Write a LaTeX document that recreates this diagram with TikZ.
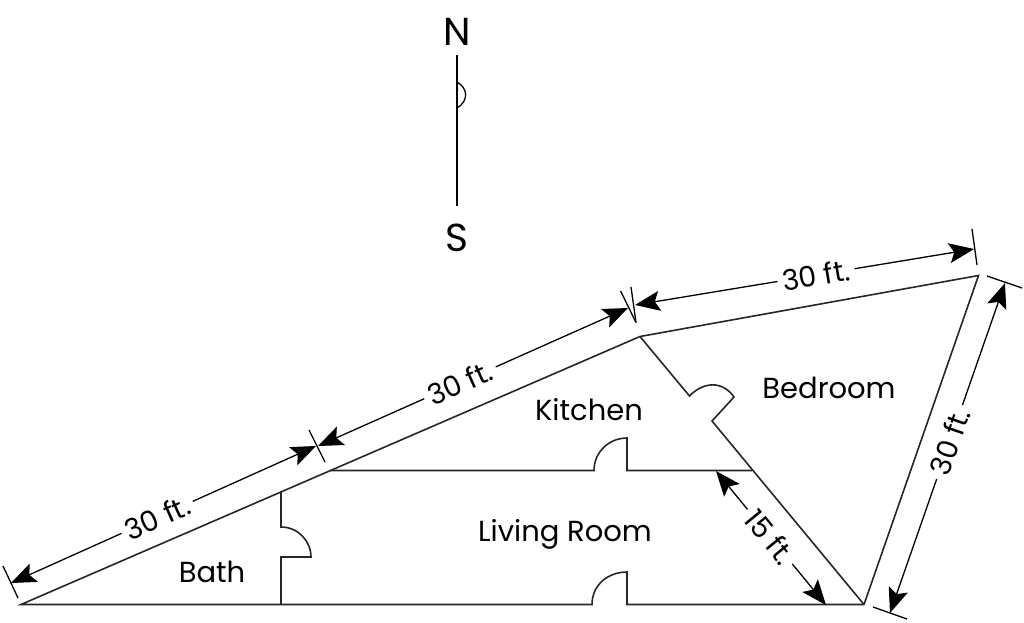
\documentclass[tikz,border=0pt]{standalone}
\usepackage{fontspec}
\setmainfont{Poppins}
\usetikzlibrary{arrows.meta}
\tikzset{
  wall/.style={line width=1.6pt,draw=black!85,line join=miter},
  thin wall/.style={line width=1.3pt,draw=black},
  dim/.style={line width=1.3pt,{Stealth[length=25pt,width=20pt,inset=5pt]}-{Stealth[length=25pt,width=20pt,inset=5pt]}},
  tick/.style={line width=1.3pt},
  dimlabel/.style={fill=white,inner ysep=0pt,inner xsep=5pt,minimum height=22pt,font=\fontsize{28.5}{28.5}\selectfont},
  room/.style={inner sep=0pt,font=\fontsize{29}{29}\selectfont},
  compass/.style={inner sep=0pt,font=\fontsize{39}{39}\selectfont}
}
\begin{document}
\begin{tikzpicture}[x=1pt,y=-1pt]
\useasboundingbox (0,0) rectangle (1024,622);
% corners
\coordinate (A) at (21,604.5);
\coordinate (B) at (640,336.5);
\coordinate (C) at (978.5,275.5);
\coordinate (D) at (864,604.5);
\coordinate (K1) at (330,470.5);
\coordinate (K2) at (752,470.5);
\coordinate (W) at (281,491);
% outer walls and bottom with door
\draw[wall] (D) -- (C) -- (B) -- (A) -- (592,604.5) .. controls (592,585) and (608,572) .. (627,572) -- (627,604.5) -- (D);
% kitchen / living wall
\draw[wall] (K1) -- (594,470.5) .. controls (594,452) and (609,438) .. (627,438) -- (627,470.5) -- (K2);
% bedroom wall
\draw[wall] (B) -- (689.5,396) .. controls (703,382) and (722,380) .. (734,397) -- (712,421) -- (D);
% bath wall
\draw[wall] (W) -- (281,527) .. controls (298,527) and (311,541) .. (311,557) -- (281,557) -- (281,604.5);
% compass
\coordinate (CN) at (457,55);
\coordinate (CS) at (457,206);
\draw[thin wall] (CN) -- (CS);
\draw[thin wall] (457,82) .. controls (468,88) and (469,101) .. (457,108);
\node[compass] (N) at (457,32) {N};
\node[compass] (S) at (457,238) {S};
% dimension ticks
\draw[tick] (3,566) -- (18,598);
\draw[tick] (309,430) -- (325,462);
\draw[tick] (620.6,291) -- (636,322.5);
\draw[tick] (631,287) -- (636,322.5);
\draw[tick] (972,229) -- (977,265);
\draw[tick] (987,276) -- (1022,288);
\draw[tick] (873,607) -- (907,619);
% dimension ends
\coordinate (d1a) at (11,583);
\coordinate (d1b) at (316,446);
\coordinate (d2a) at (318,446);
\coordinate (d2b) at (628,308);
\coordinate (d3a) at (635,305);
\coordinate (d3b) at (974,249);
\coordinate (d4a) at (1005,283);
\coordinate (d4b) at (890,613);
\coordinate (d5a) at (716,471);
\coordinate (d5b) at (826,605);
% dimensions with labels
\draw[dim] (d1a) -- (d1b) node[pos=0.479,sloped,dimlabel] (l1) {30 ft.};
\draw[dim] (d2a) -- (d2b) node[pos=0.458,sloped,dimlabel] (l2) {30 ft.};
\draw[dim] (d3a) -- (d3b) node[pos=0.534,sloped,dimlabel] (l3) {30 ft.};
\draw[dim] (d4b) -- (d4a) node[pos=0.518,sloped,dimlabel] (l4) {30 ft.};
\draw[dim] (d5a) -- (d5b) node[pos=0.49,sloped,dimlabel] (l5) {15 ft.};
% rooms
\node[room] (bedroom) at (829,388) {Bedroom};
\node[room] (kitchen) at (589,410) {Kitchen};
\node[room] (living) at (565,534) {Living Room};
\node[room] (bath) at (212,572) {Bath};
\end{tikzpicture}
\end{document}
